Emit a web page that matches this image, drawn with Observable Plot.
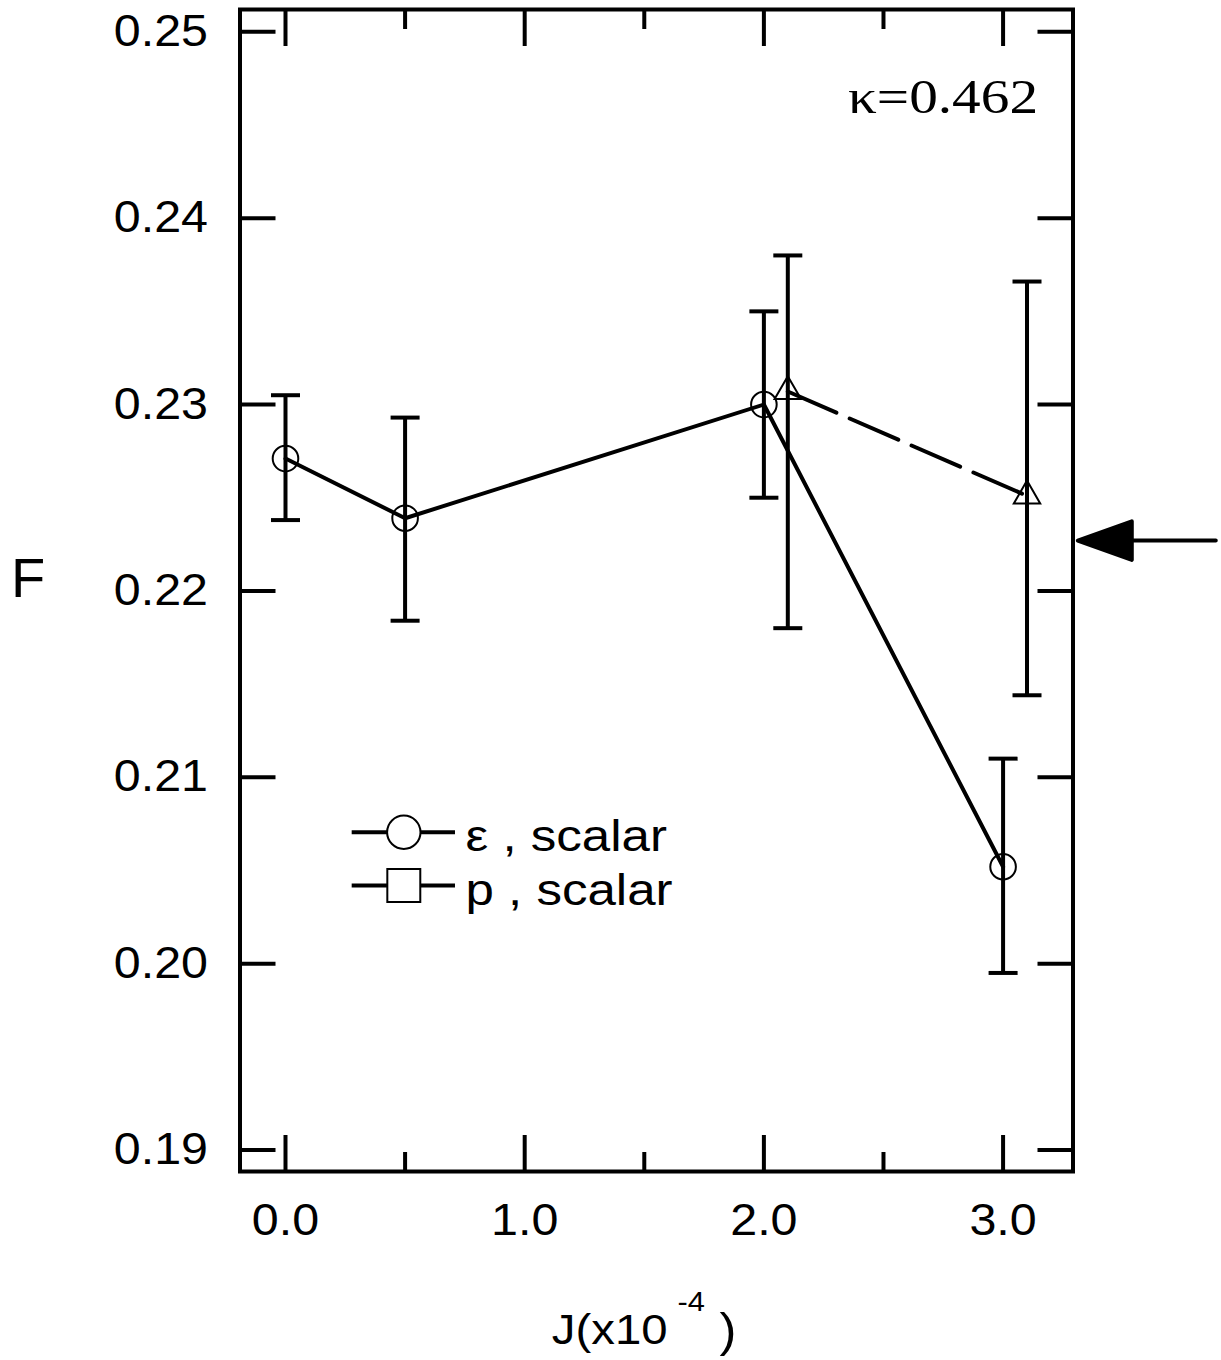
<!DOCTYPE html>
<html>
<head>
<meta charset="utf-8">
<script src="https://cdn.jsdelivr.net/npm/d3@7"></script>
<script src="https://cdn.jsdelivr.net/npm/@observablehq/plot@0.6"></script>
<style>
  html, body { margin: 0; padding: 0; background: #fff; }
  #chart svg { display: block; }
</style>
</head>
<body>
<div id="chart"></div>
<script>
// ---------- data ----------
// epsilon, scalar (circles, solid line)
const epsJ  = [0.0, 0.5, 2.0, 3.0];
const epsF  = [0.2271, 0.2239, 0.2300, 0.2052];
const epsLo = [0.2238, 0.2184, 0.2250, 0.1995];
const epsHi = [0.2305, 0.2293, 0.2350, 0.2110];
// p, scalar (triangles, dashed line)
const pJ  = [2.1, 3.1];
const pF  = [0.2307, 0.2251];
const pLo = [0.2180, 0.2144];
const pHi = [0.2380, 0.2366];
// ticks
const xMajorTicks = [0.0, 1.0, 2.0, 3.0];
const xMinorTicks = [0.5, 1.5, 2.5];
const yTicks = [0.19, 0.20, 0.21, 0.22, 0.23, 0.24, 0.25];
// annotations
const kappaLabel = "κ=0.462";
const arrowF = 0.2227;          // value marked by the arrow at the right
const legendLabels = ["ε , scalar", "p , scalar"];
const yLabel = "F";
const xLabelParts = ["J(x10", "-4", ")"];

// ---------- layout constants ----------
const xDomain = [-0.1902, 3.2923];
const yDomain = [0.188846, 0.251197];
const arrowTipJ = 3.3123;
const legendRowF = [0.20705, 0.20419];
const legendLineJ = [0.2788, 0.7107];
const legendSymJ = 0.4946;
const legendTextJ = 0.7525;

// ---------- tables ----------
const eps = epsJ.map((J, i) => ({J, F: epsF[i], lo: epsLo[i], hi: epsHi[i]}));
const pp  = pJ.map((J, i) => ({J, F: pF[i], lo: pLo[i], hi: pHi[i]}));
const legend = legendLabels.map((label, i) => ({label, F: legendRowF[i]}));

const capSymbol = { draw(ctx) { ctx.moveTo(-14.5, 0); ctx.lineTo(14.5, 0); } };
const arrowShape = {
  draw(ctx, l) {
    const hl = 54, hw = 19.3;
    ctx.moveTo(0, 0); ctx.lineTo(0, -(l - hl));
    ctx.moveTo(0, -l); ctx.lineTo(-hw, -(l - hl)); ctx.lineTo(hw, -(l - hl)); ctx.closePath();
  }
};

const sans = '"Liberation Sans", Arial, Helvetica, sans-serif';
const serif = '"Liberation Serif", "Times New Roman", serif';
const black = "black";

const svg = Plot.plot({
  width: 1221,
  height: 1360,
  marginLeft: 239.5,
  marginRight: 148.5,
  marginTop: 9,
  marginBottom: 189,
  x: {domain: xDomain},
  y: {domain: yDomain},
  style: {fontFamily: sans, background: "white", color: "black", overflow: "visible"},
  marks: [
    // inward ticks on all four sides
    Plot.axisX(xMajorTicks, {anchor: "bottom", tickSize: -36, strokeWidth: 4, stroke: black, fill: "none"}),
    Plot.axisX(xMinorTicks, {anchor: "bottom", tickSize: -19, strokeWidth: 4, stroke: black, fill: "none"}),
    Plot.axisX(xMajorTicks, {anchor: "top", tickSize: -36, strokeWidth: 4, stroke: black, fill: "none"}),
    Plot.axisX(xMinorTicks, {anchor: "top", tickSize: -19, strokeWidth: 4, stroke: black, fill: "none"}),
    Plot.axisY(yTicks, {anchor: "left", tickSize: -36, strokeWidth: 4, stroke: black, fill: "none"}),
    Plot.axisY(yTicks, {anchor: "right", tickSize: -36, strokeWidth: 4, stroke: black, fill: "none"}),
    // tick labels
    Plot.axisX(xMajorTicks, {anchor: "bottom", tickSize: 0, tickPadding: 32, tickFormat: d3.format(".1f"), fontSize: 44, fill: black, label: null}),
    Plot.axisY(yTicks, {anchor: "left", tickSize: 0, tickPadding: 32, tickFormat: d3.format(".2f"), fontSize: 44, fill: black, label: null}),
    Plot.frame({stroke: black, strokeWidth: 4}),
    // data lines
    Plot.line(eps, {x: "J", y: "F", stroke: black, strokeWidth: 4}),
    Plot.line(pp, {x: "J", y: "F", stroke: black, strokeWidth: 4, strokeDasharray: "53,14.5"}),
    // error bars
    Plot.ruleX(eps, {x: "J", y1: "lo", y2: "hi", stroke: black, strokeWidth: 4}),
    Plot.ruleX(pp, {x: "J", y1: "lo", y2: "hi", stroke: black, strokeWidth: 4}),
    Plot.dot(eps, {x: "J", y: "lo", symbol: capSymbol, stroke: black, strokeWidth: 4}),
    Plot.dot(eps, {x: "J", y: "hi", symbol: capSymbol, stroke: black, strokeWidth: 4}),
    Plot.dot(pp, {x: "J", y: "lo", symbol: capSymbol, stroke: black, strokeWidth: 4}),
    Plot.dot(pp, {x: "J", y: "hi", symbol: capSymbol, stroke: black, strokeWidth: 4}),
    // markers
    Plot.dot(eps, {x: "J", y: "F", r: 12.8, stroke: black, strokeWidth: 2, fill: "none"}),
    Plot.dot(pp, {x: "J", y: "F", symbol: "triangle", r: 9.8, stroke: black, strokeWidth: 2, fill: "none"}),
    // legend
    Plot.ruleY(legend, {y: "F", x1: legendLineJ[0], x2: legendLineJ[1], stroke: black, strokeWidth: 4}),
    Plot.dot(legend.slice(0, 1), {x: legendSymJ, y: "F", symbol: "circle", r: 16.7, stroke: black, strokeWidth: 2, fill: "white"}),
    Plot.dot(legend.slice(1, 2), {x: legendSymJ, y: "F", symbol: "square", r: 18.6, stroke: black, strokeWidth: 2, fill: "white"}),
    Plot.text(legend, {x: legendTextJ, y: "F", text: "label", textAnchor: "start", lineAnchor: "middle", dy: 5, fontSize: 44, fill: black}),
    // kappa annotation
    Plot.text([kappaLabel], {frameAnchor: "top-right", dx: -35, dy: 103, lineAnchor: "bottom", textAnchor: "end", fontFamily: serif, fontSize: 48, fill: black}),
    // arrow marking a reference value
    Plot.vector([{J: arrowTipJ, F: arrowF}], {x: "J", y: "F", length: 138, rotate: -90, anchor: "end", shape: arrowShape, stroke: black, fill: black, strokeWidth: 4}),
    // axis labels
    Plot.text([yLabel], {frameAnchor: "left", dx: -212, dy: -11.5, textAnchor: "middle", lineAnchor: "middle", fontSize: 56, fill: black}),
    Plot.text([xLabelParts[0]], {frameAnchor: "bottom", dx: 11, dy: 172, textAnchor: "end", lineAnchor: "bottom", fontSize: 43, fill: black}),
    Plot.text([xLabelParts[1]], {frameAnchor: "bottom", dx: 21, dy: 139, textAnchor: "start", lineAnchor: "bottom", fontSize: 28, fill: black}),
    Plot.text([xLabelParts[2]], {frameAnchor: "bottom", dx: 63, dy: 174, textAnchor: "start", lineAnchor: "bottom", fontSize: 46, fill: black})
  ]
});

document.getElementById("chart").append(svg);

// the reference lettering is drawn slightly wider than the plain fonts
d3.select(svg).selectAll("text").each(function () {
  const t = this.textContent;
  let len = 0;
  try { len = this.getComputedTextLength(); } catch (e) { len = 0; }
  if (!(len > 0)) return;
  if (t === yLabel) return;
  let target;
  if (t === kappaLabel) target = 190;
  else if (legendLabels.includes(t)) target = len * 1.16;
  else target = len * 1.1;
  this.setAttribute("textLength", target.toFixed(1));
  this.setAttribute("lengthAdjust", "spacingAndGlyphs");
});
</script>
</body>
</html>
